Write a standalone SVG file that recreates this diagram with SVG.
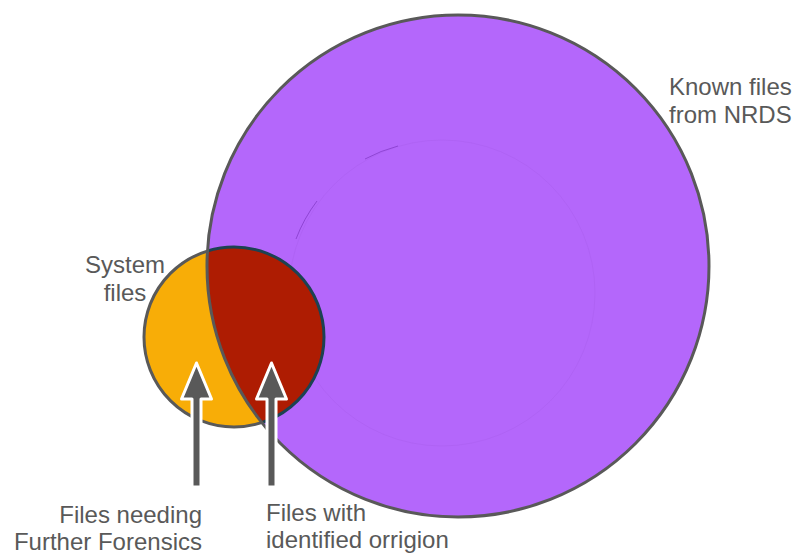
<svg xmlns="http://www.w3.org/2000/svg" width="796" height="555" viewBox="0 0 796 555">
  <style>
    .lbl { font-family: "Liberation Sans", Arial, sans-serif; font-size: 24px; fill: #595959; }
    .arrow { fill: #595959; stroke: #ffffff; stroke-width: 3; stroke-linejoin: round; }
  </style>
  <defs>
    <clipPath id="bigClip">
      <circle cx="458" cy="266" r="251"/>
    </clipPath>
  </defs>
  <rect width="796" height="555" fill="#ffffff"/>

  <g id="system-files">
    <circle cx="234" cy="337" r="90" fill="#f8ad07" stroke="#595959" stroke-width="3"/>
  </g>

  <g id="known-files">
    <circle cx="458" cy="266" r="251" fill="#b467fb"/>
    <circle cx="442" cy="293" r="153" fill="none" stroke="#a85cec" stroke-width="1" opacity="0.4"/>
    <path d="M 365 159 A 153 153 0 0 1 398 146" fill="none" stroke="#8f45d4" stroke-width="1"/>
    <path d="M 317 201 A 153 153 0 0 0 296 239" fill="none" stroke="#8f45d4" stroke-width="1"/>
  </g>

  <g id="identified">
    <circle cx="234" cy="337" r="90" fill="#ae1c02" stroke="#1c4252" stroke-width="3" clip-path="url(#bigClip)"/>
  </g>

  <g id="known-outline">
    <circle cx="458" cy="266" r="251" fill="none" stroke="#595959" stroke-width="3"/>
  </g>

  <g id="connectors">
    <polygon class="arrow" points="196.5,363 211.5,399 201,399 201,487 192,487 192,399 181.5,399"/>
    <polygon class="arrow" points="271.5,363 286.5,399 276,399 276,487 267,487 267,399 256.5,399"/>
  </g>

  <g id="labels">
    <text class="lbl" x="125" y="273" text-anchor="middle">System</text>
    <text class="lbl" x="125" y="301" text-anchor="middle">files</text>
    <text class="lbl" x="669" y="95">Known files</text>
    <text class="lbl" x="669" y="123">from NRDS</text>
    <text class="lbl" x="202" y="523" text-anchor="end">Files needing</text>
    <text class="lbl" x="202" y="550" text-anchor="end">Further Forensics</text>
    <text class="lbl" x="266" y="521">Files with</text>
    <text class="lbl" x="266" y="548">identified orrigion</text>
  </g>
</svg>
